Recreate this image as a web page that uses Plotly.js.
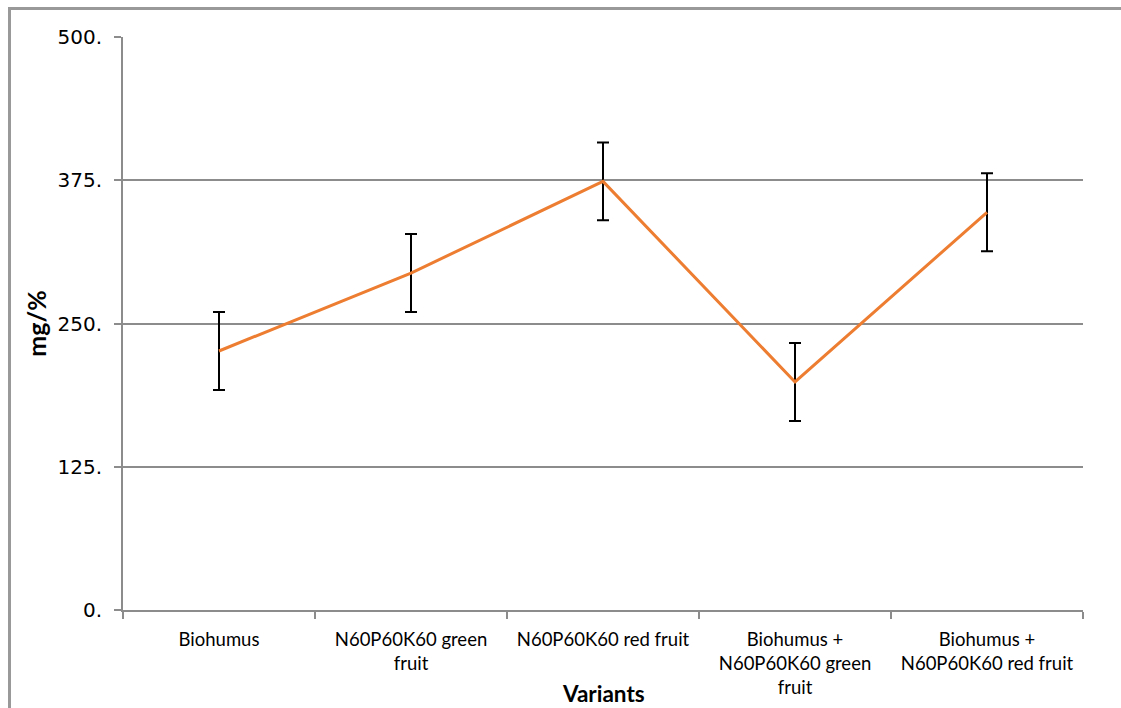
<!DOCTYPE html>
<html>
<head>
<meta charset="utf-8">
<script src="https://cdn.plot.ly/plotly-3.0.1.min.js"></script>
<style>
html,body{margin:0;padding:0;background:#fff;overflow:hidden;width:1121px;height:708px;}
#wrap{position:relative;width:1121px;height:708px;overflow:hidden;}
#chart{width:1121px;height:708px;}
#frame{position:absolute;left:8px;top:7px;width:1200px;height:800px;border-left:3px solid #999;border-top:3px solid #999;pointer-events:none;}
</style>
</head>
<body>
<div id="wrap">
<div id="chart"></div>
<div id="frame"></div>
</div>
<script>
const categories = [
  "Biohumus",
  "N60P60K60 green<br>fruit",
  "N60P60K60 red fruit",
  "Biohumus +<br>N60P60K60 green<br>fruit",
  "Biohumus +<br>N60P60K60 red fruit"
];
const values = [226, 294, 374, 199, 347];
const errors = [34, 34, 34, 34, 34];
const yTickVals = [0, 125, 250, 375, 500];
const yTickText = ["0.", "125.", "250.", "375.", "500."];

const gray = "#8c8c8c";

const trace = {
  type: "scatter",
  mode: "lines",
  x: categories,
  y: values,
  line: {color: "#ED7D31", width: 3},
  error_y: {type: "data", array: errors, visible: true, color: "#000", thickness: 2, width: 6},
  hoverinfo: "x+y"
};

const layout = {
  width: 1121, height: 708,
  margin: {l: 123, r: 38, t: 37, b: 98},
  paper_bgcolor: "rgba(0,0,0,0)", plot_bgcolor: "rgba(0,0,0,0)",
  showlegend: false,
  font: {family: "Lato, 'Liberation Sans', sans-serif", color: "#000"},
  xaxis: {
    type: "category",
    range: [-0.5, 4.5],
    tickson: "boundaries",
    ticks: "outside", ticklen: 7, tickwidth: 2, tickcolor: gray,
    showline: true, linecolor: gray, linewidth: 2,
    showgrid: false, zeroline: false,
    tickfont: {family: "Lato, sans-serif", size: 18.5, color: "#000"},
    tickangle: 0,
    ticklabelstandoff: 12,
    automargin: false
  },
  yaxis: {
    range: [0, 500],
    tickvals: yTickVals, ticktext: yTickText,
    ticks: "outside", ticklen: 7, tickwidth: 2, tickcolor: gray,
    showline: true, linecolor: gray, linewidth: 2,
    showgrid: true, gridcolor: gray, gridwidth: 2,
    zeroline: false,
    tickfont: {family: "'DejaVu Sans', sans-serif", size: 20, color: "#000"},
    ticklabelstandoff: 8,
    automargin: false,
    title: {text: "<b>mg/%</b>", font: {family: "Lato, sans-serif", size: 25, color: "#000"}, standoff: 4}
  },
  annotations: [
    {text: "<b>Variants</b>", xref: "paper", yref: "paper", x: 0.5, y: -0.1449, xanchor: "center", yanchor: "middle",
     showarrow: false, font: {family: "Lato, sans-serif", size: 22.5, color: "#000"}}
  ]
};

Plotly.newPlot("chart", [trace], layout, {displayModeBar: false, staticPlot: true});
</script>
</body>
</html>
